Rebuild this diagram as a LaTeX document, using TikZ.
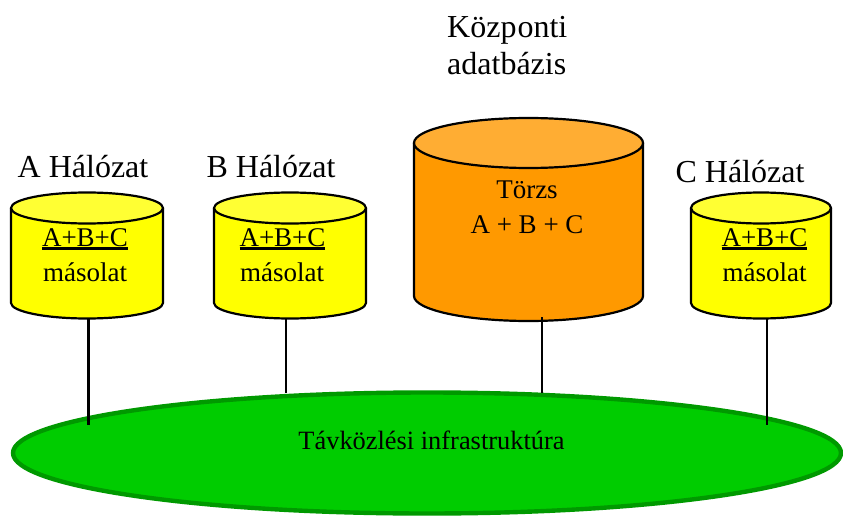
\documentclass[tikz,border=0pt]{standalone}
\usepackage{fontspec}
\setmainfont{Liberation Serif}
\definecolor{ylw}{RGB}{255,255,0}
\definecolor{ylwtop}{RGB}{255,255,51}
\definecolor{org}{RGB}{255,153,0}
\definecolor{orgtop}{RGB}{255,173,51}
\definecolor{grn}{RGB}{0,204,0}
\definecolor{grnline}{RGB}{0,153,0}
\newcommand{\thickul}[1]{\setbox0\hbox{#1}\hbox{\rlap{\rule[-3.6pt]{\wd0}{2.3pt}}\box0}}
\tikzset{x=1pt,y=-1pt,
 lab/.style={inner sep=0pt,anchor=base,font=\fontsize{32}{36}\selectfont,text=black},
 labw/.style={inner sep=0pt,anchor=base west,font=\fontsize{32}{36}\selectfont,text=black},
 small/.style={inner sep=0pt,anchor=base,font=\fontsize{27}{30}\selectfont,text=black},
 wide/.style={inner sep=0pt,anchor=base,font=\fontsize{26.4}{30}\selectfont,text=black},
 wire/.style={line width=2.3pt,draw=black},
 outl/.style={line width=2.2pt,draw=black}}
\newcommand{\cyl}[7]{% cx, top y, rx, ry, bottom y, body, top
 \fill[#6] (#1-#3,#2) -- (#1-#3,#5) .. controls (#1-#3,#5+0.55*#4) and (#1-0.55*#3,#5+#4) .. (#1,#5+#4) .. controls (#1+0.55*#3,#5+#4) and (#1+#3,#5+0.55*#4) .. (#1+#3,#5) -- (#1+#3,#2) -- cycle;
 \draw[outl] (#1-#3,#2) -- (#1-#3,#5) .. controls (#1-#3,#5+0.55*#4) and (#1-0.55*#3,#5+#4) .. (#1,#5+#4) .. controls (#1+0.55*#3,#5+#4) and (#1+#3,#5+0.55*#4) .. (#1+#3,#5) -- (#1+#3,#2);
 \filldraw[fill=#7,outl] (#1,#2) ellipse[x radius=#3,y radius=#4];
}
\begin{document}
\begin{tikzpicture}
\useasboundingbox (0,0) rectangle (843,516);
\filldraw[fill=grn,draw=grnline,line width=4.4pt] (427,453) ellipse[x radius=414,y radius=60.5];
\cyl{87}{208}{76}{15.5}{303}{ylw}{ylwtop}
\cyl{290}{208}{76}{15.5}{303}{ylw}{ylwtop}
\cyl{528.5}{143}{114.5}{25}{296}{org}{orgtop}
\cyl{761}{208}{70}{15.5}{303}{ylw}{ylwtop}
\coordinate (a1) at (88.5,318); \coordinate (a2) at (88.5,425);
\coordinate (b1) at (286,318); \coordinate (b2) at (286,393);
\coordinate (c1) at (542,317); \coordinate (c2) at (542,393);
\coordinate (d1) at (767,318); \coordinate (d2) at (767,425);
\draw[wire] (a1)--(a2); \draw[wire] (b1)--(b2); \draw[wire] (c1)--(c2); \draw[wire] (d1)--(d2);
\node[labw] (t0) at (447,38) {Közp\kern1pt onti};
\node[labw] (t0b) at (447,75) {adatbázis};
\node[lab] (t1) at (83,177) {A Hálózat};
\node[lab] (t2) at (271,177) {B Hálózat};
\node[lab] (t3) at (740,182) {C Hálózat};
\node[small] (n1a) at (85,246) {\thickul{A+B+C}};
\node[small] (n1b) at (85,281) {másolat};
\node[small] (n2a) at (282.5,246) {\thickul{A+B+C}};
\node[small] (n2b) at (282,281) {másolat};
\node[small] (n4a) at (764.5,246) {\thickul{A+B+C}};
\node[small] (n4b) at (764.5,281) {másolat};
\node[small] (n3a) at (527,198) {Törzs};
\node[small] (n3b) at (527,233) {A + B + C};
\node[wide] (n5) at (431.5,449) {Távközlési infrastruktúra};
\end{tikzpicture}
\end{document}
